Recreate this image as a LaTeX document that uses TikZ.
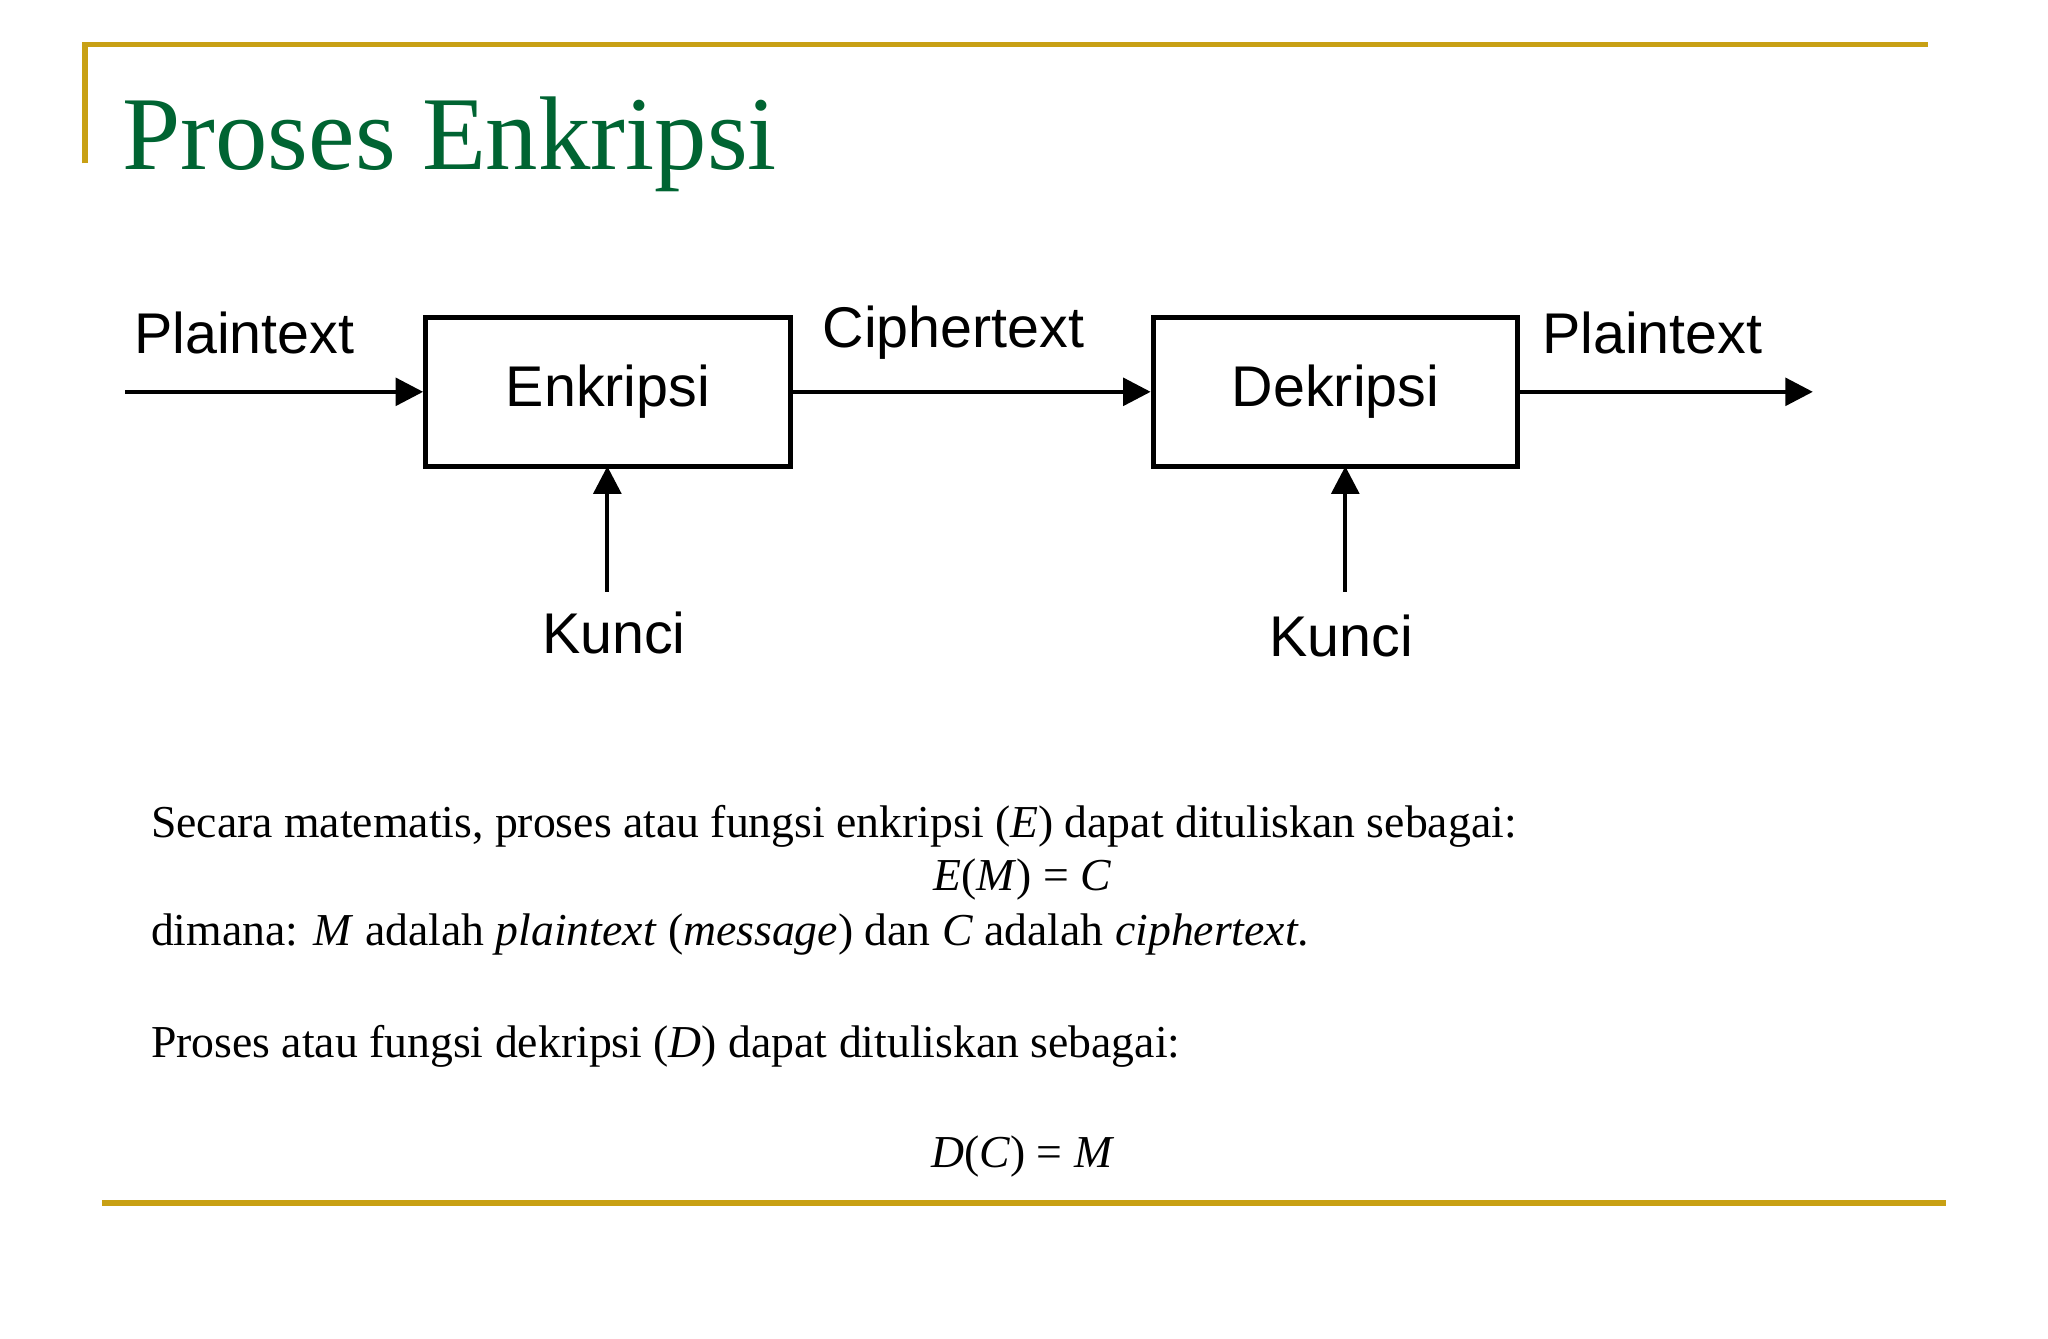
\documentclass[tikz,border=0pt]{standalone}
\usepackage{fontspec}
\setmainfont{Liberation Serif}
\newfontfamily\diag{Liberation Sans}
\usetikzlibrary{arrows.meta}
\definecolor{gold}{RGB}{200,160,20}
\definecolor{titlegreen}{RGB}{0,100,50}
\tikzset{
  blk/.style={draw,line width=1.1pt,minimum width=2.79cm,minimum height=1.14cm,font=\diag\fontsize{12.5}{15}\selectfont,inner sep=0},
  lbl/.style={font=\diag\fontsize{12.5}{15}\selectfont,inner sep=0},
  flow/.style={line width=0.9pt,-{Triangle[length=6pt,width=6pt]}},
  txt/.style={font=\fontsize{9.95}{12}\selectfont,inner sep=0,anchor=base west},
}
\begin{document}
\begin{tikzpicture}[x=0.01cm,y=-0.01cm]
\useasboundingbox (0,0) rectangle (1568,1025);
\draw[gold,line width=1.2pt] (65,125) -- (65,34) -- (1476,34);
\draw[gold,line width=1.2pt] (78,921) -- (1490,921);
\node[anchor=base west,inner sep=0,text=titlegreen,font=\fontsize{22.8}{26}\selectfont] (title) at (93,130) {Proses Enkripsi};
\node[blk] (enc) at (465.5,300) {Enkripsi};
\node[blk] (dec) at (1022.5,300) {Dekripsi};
\coordinate (in) at (96,300);
\coordinate (out) at (1388,300);
\coordinate (k1) at (465,453);
\coordinate (k2) at (1030,453);
\draw[flow] (in) -- (enc.west);
\draw[flow] (enc.east) -- (dec.west);
\draw[flow] (dec.east) -- (out);
\draw[flow] (k1) -- (465,357);
\draw[flow] (k2) -- (1030,357);
\node[lbl] (p1) at (187,255) {Plaintext};
\node[lbl] (c1) at (730,255) {Ciphertext};
\node[lbl] (p2) at (1265,255) {Plaintext};
\node[lbl] (kk1) at (470,485) {Kunci};
\node[lbl] (kk2) at (1027,487) {Kunci};
\node[txt] (t1) at (115,641) {Secara matematis, proses atau fungsi enkripsi (\textit{E}) dapat dituliskan sebagai:};
\node[txt,anchor=base] (t2) at (783,682) {\textit{E}(\textit{M}) = \textit{C}};
\node[txt] (t3) at (115,724) {dimana: \textit{M} adalah \textit{plaintext} (\textit{message}) dan \textit{C} adalah \textit{ciphertext}.};
\node[txt] (t4) at (115,810) {Proses atau fungsi dekripsi (\textit{D}) dapat dituliskan sebagai:};
\node[txt,anchor=base] (t5) at (783,894) {\textit{D}(\textit{C}) = \textit{M}};
\end{tikzpicture}
\end{document}
